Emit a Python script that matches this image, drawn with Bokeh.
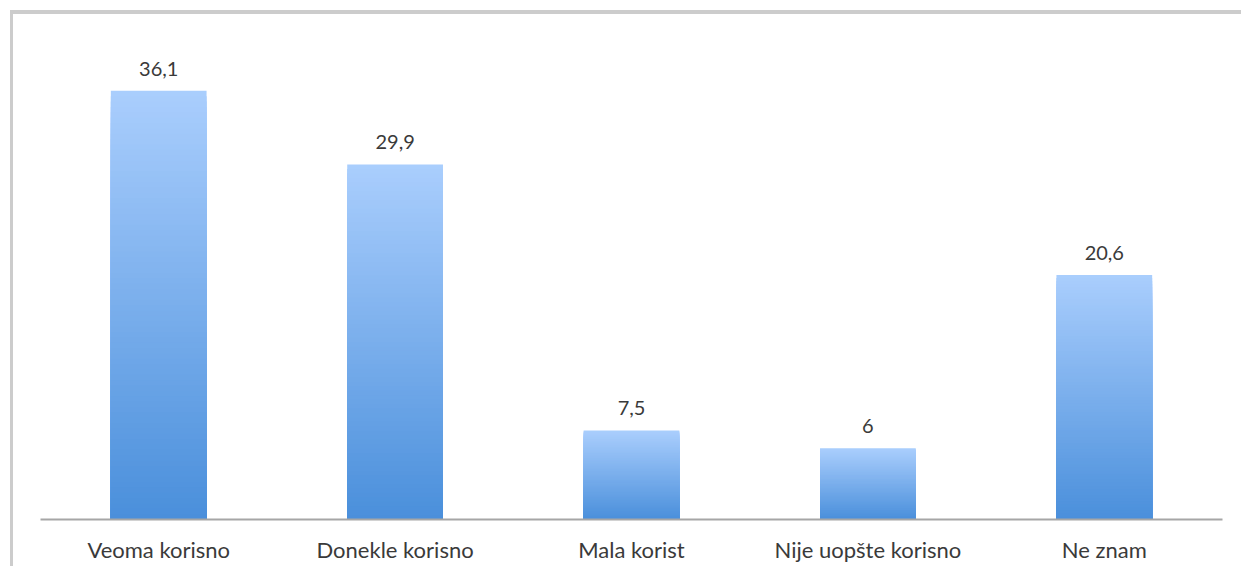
from bokeh.plotting import figure
from bokeh.models import ColumnDataSource, Range1d
from bokeh.core.properties import value
from bokeh.embed import file_html
from bokeh.resources import INLINE

categories = ["Veoma korisno", "Donekle korisno", "Mala korist", "Nije uopšte korisno", "Ne znam"]
values = [36.1, 29.9, 7.5, 6, 20.6]

TOP_RGB = (170, 206, 253)
BOTTOM_RGB = (74, 143, 219)
FONT = "Lato"
TEXT_COLOR = "#3a3a3a"

p = figure(x_range=categories, y_range=Range1d(0, 40), width=1231, height=556,
           output_backend="svg", toolbar_location=None,
           min_border_left=27, min_border_right=22, min_border_top=30, min_border_bottom=51)
p.styles = {"box-shadow": "-3px -4px 0px 0px #cccccc",
            "margin-left": "13px", "margin-top": "14px"}

# gradient bars: nested bars from full height down, each darker toward the base
N = 80
xs, tops, cols = [], [], []
for k in range(N, 0, -1):
    t = (k - 0.5) / N
    r = round(BOTTOM_RGB[0] + (TOP_RGB[0] - BOTTOM_RGB[0]) * t)
    g = round(BOTTOM_RGB[1] + (TOP_RGB[1] - BOTTOM_RGB[1]) * t)
    b = round(BOTTOM_RGB[2] + (TOP_RGB[2] - BOTTOM_RGB[2]) * t)
    for c, v in zip(categories, values):
        xs.append(c)
        tops.append(v * k / N)
        cols.append("#%02x%02x%02x" % (r, g, b))
p.vbar(x=xs, bottom=0, top=tops, width=0.405, fill_color=cols, line_color=None)

labels = [("%g" % v).replace(".", ",") for v in values]
src = ColumnDataSource(dict(x=categories, y=values, t=labels))
p.text(x="x", y="y", text="t", source=src, text_align="center", text_baseline="alphabetic",
       y_offset=-22, text_font=value(FONT), text_font_size="20px", text_color=TEXT_COLOR)

p.yaxis.visible = False
p.xgrid.grid_line_color = None
p.ygrid.grid_line_color = None
p.outline_line_color = None
p.xaxis.axis_line_color = "#a6a6a6"
p.xaxis.axis_line_width = 2
p.xaxis.major_tick_line_color = None
p.xaxis.minor_tick_line_color = None
p.xaxis.major_label_standoff = 10
p.xaxis.major_label_text_font = FONT
p.xaxis.major_label_text_font_size = "22px"
p.xaxis.major_label_text_color = TEXT_COLOR
p.x_range.range_padding = 0

open("out.html", "w").write(file_html(p, INLINE))
